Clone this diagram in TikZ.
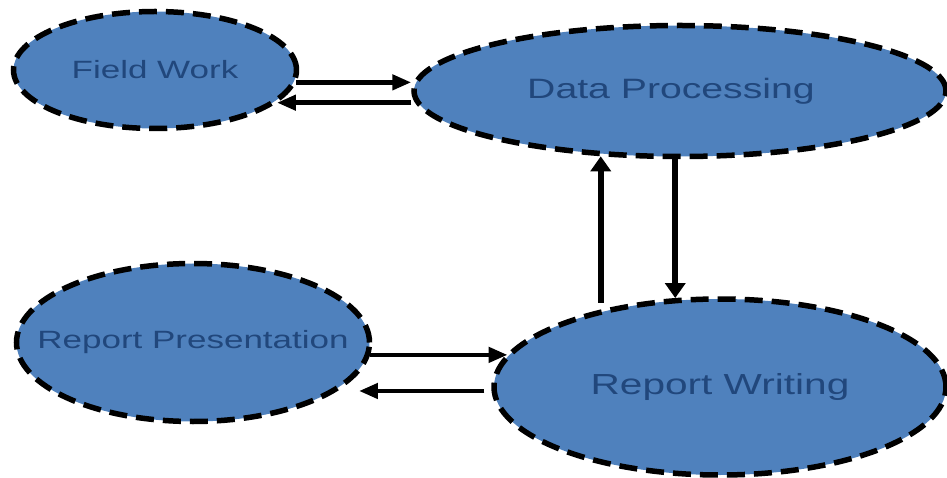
\documentclass[tikz,border=0pt]{standalone}
\usepackage{fontspec}
\newfontfamily\lab[FakeStretch=1.4]{Liberation Sans}
\usetikzlibrary{arrows.meta,shapes.geometric}
\definecolor{ellfill}{HTML}{4F81BD}
\definecolor{elltext}{HTML}{21477C}
\begin{document}
\begin{tikzpicture}[x=1pt,y=1pt,
  ell/.style={ellipse, draw=black, fill=ellfill, line width=5.5pt,
    dash pattern=on 18pt off 9pt, inner sep=0pt, text=elltext},
  harr/.style={line width=4.5pt, -{Triangle[length=19pt,width=15pt]}},
  varr/.style={line width=6pt, -{Triangle[length=15pt,width=20pt]}}]
\useasboundingbox (0,0) rectangle (947,-478);
\node[ell, minimum width=283pt, minimum height=117pt] (fw) at (155,-70)
  {\makebox[0pt]{\fontsize{25}{30}\lab Field Work}};
\node[ell, minimum width=532pt, minimum height=131pt] (dp) at (680,-91)
  {\makebox[0pt]{\fontsize{28}{34}\lab Data Processing\hspace{18pt}}};
\node[ell, minimum width=353pt, minimum height=158pt] (rp) at (193,-342.5)
  {\makebox[0pt]{\fontsize{25}{30}\lab Report Presentation}};
\node[ell, minimum width=452pt, minimum height=176pt] (rw) at (720,-387)
  {\makebox[0pt]{\fontsize{29}{35}\lab Report Writing}};
\draw[harr] (fw.-5) -- (fw.-5 -| dp.west);
\draw[harr] (dp.west |- fw.-15.1) -- (fw.-15.1);
\draw[varr, shorten <=7pt] (rw.147.3) -- (rw.147.3 |- dp.-140.95);
\draw[varr] (dp.-94.37) -- (dp.-94.37 |- rw.117.55);
\draw[harr] (rp.-4.2) -- (rp.-4.2 -| rw.171.05);
\draw[harr, shorten <=7pt, shorten >=20pt] (rw.-179.6) -- (rw.-179.6 -| rp.-18.05);
\end{tikzpicture}
\end{document}
